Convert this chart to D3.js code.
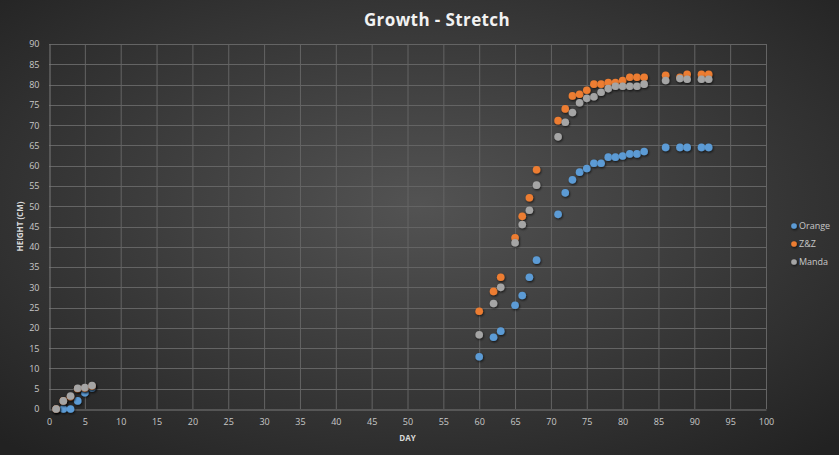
<!DOCTYPE html>
<html><head><meta charset="utf-8">
<script src="https://cdn.jsdelivr.net/npm/d3@7"></script>
<style>html,body{margin:0;padding:0;background:#333;}svg{display:block;}</style>
</head><body>
<svg id="chart" width="839" height="455"></svg>
<script>
const title = "Growth - Stretch";
const xTitle = "DAY";
const yTitle = "HEIGHT (CM)";
const seriesNames = ["Orange", "Z&Z", "Manda"];
const seriesColors = ["#5B9BD5", "#ED7D31", "#A5A5A5"];

const orangeDays = [1,2,3,4,5,6,60,62,63,65,66,67,68,71,72,73,74,75,76,77,78,79,80,81,82,83,86,88,89,91,92];
const orangeVals = [0,0,0,2,4,5.2,12.9,17.7,19.2,25.6,28,32.5,36.7,48,53.3,56.5,58.4,59.3,60.6,60.6,62.1,62.1,62.4,62.9,62.9,63.5,64.5,64.5,64.5,64.5,64.5];

const zzDays = [1,2,3,4,5,6,60,62,63,65,66,67,68,71,72,73,74,75,76,77,78,79,80,81,82,83,86,88,89,91,92];
const zzVals = [0,2,3,5,5.1,5.6,24.1,29,32.5,42.2,47.5,52.1,59,71.1,74,77.2,77.6,78.6,80.1,80.1,80.5,80.5,81,81.8,81.8,81.8,82.3,81.8,82.5,82.5,82.5];

const mandaDays = [1,2,3,4,5,6,60,62,63,65,66,67,68,71,72,73,74,75,76,77,78,79,80,81,82,83,86,88,89,91,92];
const mandaVals = [0,2,3.2,5.1,5.3,5.8,18.3,26,30,41,45.5,49,55.2,67.1,70.7,73.1,75.5,76.6,77,78.1,79,79.6,79.6,79.6,79.6,80.1,81,81.5,81.3,81.3,81.3];

const xTicks = d3.range(0, 101, 5);
const yTicks = d3.range(0, 91, 5);

const series = [
  {name: seriesNames[0], color: seriesColors[0], days: orangeDays, vals: orangeVals},
  {name: seriesNames[1], color: seriesColors[1], days: zzDays, vals: zzVals},
  {name: seriesNames[2], color: seriesColors[2], days: mandaDays, vals: mandaVals}
];

const W = 839, H = 455;
const svg = d3.select("#chart");
const defs = svg.append("defs");
const rg = defs.append("radialGradient").attr("id","bg").attr("cx","50%").attr("cy","45%").attr("r","72%");
rg.append("stop").attr("offset","0%").attr("stop-color","#535353");
rg.append("stop").attr("offset","100%").attr("stop-color","#222222");
const f = defs.append("filter").attr("id","sh").attr("x","-50%").attr("y","-50%").attr("width","200%").attr("height","200%");
f.append("feDropShadow").attr("dx",0.8).attr("dy",1.2).attr("stdDeviation",1.2).attr("flood-color","#000").attr("flood-opacity",0.7);

svg.append("rect").attr("width",W).attr("height",H).attr("fill","url(#bg)");

const L = 49, R = 766, T = 44, B = 409;
const x = d3.scaleLinear().domain([0,100]).range([L,R]);
const y = d3.scaleLinear().domain([0,90]).range([B,T]);

const font = "'Open Sans', 'Liberation Sans', sans-serif";

// gridlines
const g = svg.append("g");
g.selectAll(".vg").data(xTicks.filter(d=>d>0)).enter().append("line")
  .attr("x1",d=>x(d)+0.5).attr("x2",d=>x(d)+0.5).attr("y1",T).attr("y2",B)
  .attr("stroke","#646464").attr("stroke-width",1);
g.selectAll(".hg").data(yTicks.filter(d=>d>0)).enter().append("line")
  .attr("y1",d=>Math.round(y(d))+0.5).attr("y2",d=>Math.round(y(d))+0.5).attr("x1",L).attr("x2",R)
  .attr("stroke","#646464").attr("stroke-width",1);

// axes
const xAxis = d3.axisBottom(x).tickValues(xTicks).tickSize(0).tickPadding(9);
const yAxis = d3.axisLeft(y).tickValues(yTicks).tickSize(0).tickPadding(10);
const xa = svg.append("g").attr("transform",`translate(0,${B+0.5})`).call(xAxis);
const ya = svg.append("g").attr("transform",`translate(${L+0.5},0)`).call(yAxis);
[xa, ya].forEach(a => {
  a.select(".domain").attr("stroke","#7a7a7a").attr("stroke-width",1);
  a.selectAll("text").attr("fill","#c8c8c8").attr("font-size","9px").attr("font-family",font);
});

// title
svg.append("text").attr("x",437).attr("y",26).attr("text-anchor","middle")
  .attr("fill","#f2f2f2").attr("font-size","17px").attr("font-weight","bold").attr("font-family",font)
  .attr("letter-spacing","0.4px").text(title);
svg.append("text").attr("x",(L+R)/2).attr("y",441).attr("text-anchor","middle")
  .attr("fill","#d9d9d9").attr("font-size","8px").attr("font-weight","bold").attr("font-family",font)
  .text(xTitle);
svg.append("text").attr("transform",`translate(23,${(T+B)/2}) rotate(-90)`).attr("text-anchor","middle")
  .attr("fill","#d9d9d9").attr("font-size","8px").attr("font-weight","bold").attr("font-family",font)
  .text(yTitle);

// points
series.forEach(s => {
  svg.append("g").selectAll("circle").data(s.days.map((d,i)=>[d,s.vals[i]])).enter().append("circle")
    .attr("cx",d=>x(d[0])).attr("cy",d=>y(d[1])).attr("r",3.8)
    .attr("fill",s.color).attr("filter","url(#sh)");
});

// legend
const lg = svg.append("g");
series.forEach((s,i) => {
  const yy = 226 + i*18;
  lg.append("circle").attr("cx",794).attr("cy",yy).attr("r",2.8).attr("fill",s.color).attr("filter","url(#sh)");
  lg.append("text").attr("x",799).attr("y",yy+3.3).attr("fill","#c8c8c8").attr("font-size","9px")
    .attr("font-family",font).text(s.name);
});
</script>
</body></html>
